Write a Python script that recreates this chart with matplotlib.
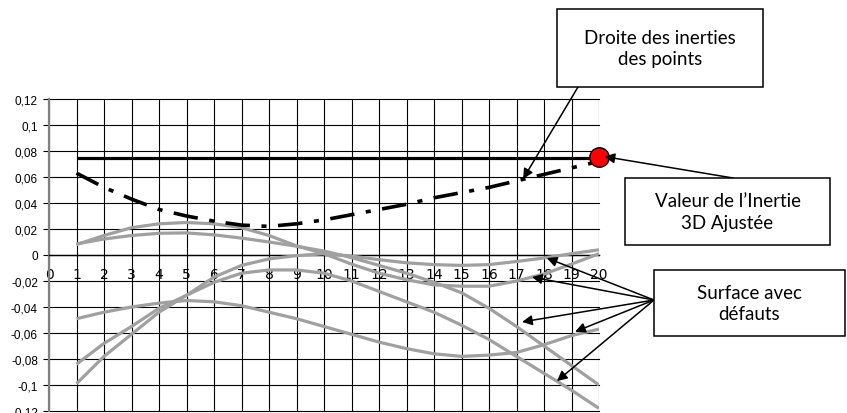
import matplotlib
matplotlib.use("Agg")
import matplotlib.pyplot as plt
from matplotlib.patches import Rectangle

# --- data ---
x = list(range(1, 21))

inertie_ajustee = 0.0745      # solid black line
inertie_3d = 0.0757           # red dot at x = 20

inertie_points = [0.063, 0.052, 0.043, 0.035, 0.030, 0.026, 0.023, 0.022, 0.024, 0.027,
                  0.031, 0.035, 0.039, 0.044, 0.048, 0.052, 0.057, 0.062, 0.067, 0.072]

surface_1 = [0.008, 0.015, 0.021, 0.024, 0.025, 0.024, 0.021, 0.015, 0.007, 0.001,
             -0.007, -0.014, -0.019, -0.023, -0.024, -0.024, -0.020, -0.0146, -0.007, 0.001]
surface_2 = [0.0085, 0.0123, 0.015, 0.0167, 0.017, 0.0155, 0.013, 0.010, 0.0068, 0.003,
             -0.002, -0.008, -0.014, -0.021, -0.029, -0.041, -0.055, -0.070, -0.085, -0.100]
surface_3 = [-0.049, -0.044, -0.040, -0.037, -0.035, -0.036, -0.039, -0.044, -0.049, -0.055,
             -0.061, -0.067, -0.072, -0.076, -0.078, -0.077, -0.075, -0.069, -0.062, -0.057]
surface_4 = [-0.084, -0.068, -0.055, -0.041, -0.031, -0.021, -0.014, -0.0115, -0.0115, -0.014,
             -0.020, -0.028, -0.036, -0.044, -0.054, -0.065, -0.078, -0.091, -0.104, -0.118]
surface_5 = [-0.099, -0.078, -0.061, -0.044, -0.031, -0.017, -0.008, -0.003, -0.0005, 0.001,
             -0.0008, -0.0036, -0.006, -0.0074, -0.008, -0.0074, -0.005, -0.0023, 0.001, 0.004]

x_ticks = list(range(0, 21))
y_ticks = [0.12, 0.1, 0.08, 0.06, 0.04, 0.02, 0, -0.02, -0.04, -0.06, -0.08, -0.1, -0.12]
y_labels = ["0,12", "0,1", "0,08", "0,06", "0,04", "0,02", "0",
            "-0,02", "-0,04", "-0,06", "-0,08", "-0,1", "-0,12"]

W, H = 847, 414
GRAY = "#a0a0a0"


def fpx(px, py):
    # pixel position (from top-left) -> figure pixels (from bottom-left)
    return (px, H - py)


fig = plt.figure(figsize=(W / 100, H / 100), dpi=100)
ax = fig.add_axes([49 / W, 2 / H, 550 / W, 312 / H])

# gray surface curves
for s in (surface_3, surface_4, surface_5, surface_2, surface_1):
    ax.plot(x, s, color=GRAY, lw=2.3, solid_capstyle="butt", zorder=3)

# fitted inertia and point inertias
ax.hlines(inertie_ajustee, x[0], x[-1], color="black", lw=2.3, zorder=4)
ax.plot(x, inertie_points, color="black", lw=2.6,
        linestyle=(0, (6.8, 3.2, 1.4, 3.2)), zorder=4)
ax.plot([20], [inertie_3d], "o", ms=14, mfc="red", mec="black", mew=1,
        clip_on=False, zorder=6)

ax.set_xlim(0, 20)
ax.set_ylim(-0.12, 0.12)
ax.set_xticks(x_ticks)
ax.set_xticklabels([str(t) for t in x_ticks], fontweight="bold",
                   fontsize=9.5, family="Liberation Sans")
ax.set_yticks(y_ticks)
ax.set_yticklabels(y_labels, fontsize=8.5, family="Liberation Sans")
ax.tick_params(axis="x", length=0, pad=9)
ax.tick_params(axis="y", direction="out", length=4, width=0.8, pad=4)

ax.grid(True, color="black", lw=0.8)
for gl in ax.get_xgridlines() + ax.get_ygridlines():
    gl.set_clip_on(False)

for side in ("top", "right"):
    ax.spines[side].set_visible(False)
ax.spines["left"].set_color("#808080")
ax.spines["left"].set_linewidth(1.6)
ax.spines["bottom"].set_position(("data", 0))
ax.spines["bottom"].set_linewidth(1.0)
ax.set_axisbelow(True)

# --- annotation boxes ---
boxes = [
    ((557, 10, 763, 88), "Droite des inerties\ndes points"),
    ((625, 179, 830, 246), "Valeur de l\u2019Inertie\n3D Ajust\u00e9e"),
    ((654, 271, 845, 337), "Surface avec\nd\u00e9fauts"),
]
for (x0, y0, x1, y1), label in boxes:
    fig.patches.append(Rectangle((x0 / W, 1 - y1 / H), (x1 - x0) / W, (y1 - y0) / H,
                                 transform=fig.transFigure, fill=True, fc="white",
                                 ec="black", lw=1.1, zorder=10))
    fig.text((x0 + x1) / 2 / W, 1 - (y0 + y1) / 2 / H, label, ha="center", va="center",
             fontsize=13.5, family="Lato", linespacing=1.3, zorder=11)

arrow = dict(arrowstyle="-|>", color="black", lw=1.1, mutation_scale=15,
             shrinkA=0, shrinkB=0)

# box -> data point arrows (tips in data coordinates)
ax.annotate("", xy=(17.24, 0.0585), xycoords="data",
            xytext=fpx(578, 88), textcoords="figure pixels",
            arrowprops=arrow, annotation_clip=False, zorder=9)
ax.annotate("", xy=(20.2, 0.0757), xycoords="data",
            xytext=fpx(733, 179), textcoords="figure pixels",
            arrowprops=arrow, annotation_clip=False, zorder=9)

surface_tips = [(18.1, -0.0023), (17.56, -0.017), (17.2, -0.0515),
                (19.13, -0.059), (18.47, -0.097)]
for tip in surface_tips:
    ax.annotate("", xy=tip, xycoords="data",
                xytext=fpx(654, 301), textcoords="figure pixels",
                arrowprops=arrow, annotation_clip=False, zorder=9)

fig.savefig("out.png", dpi=100)
